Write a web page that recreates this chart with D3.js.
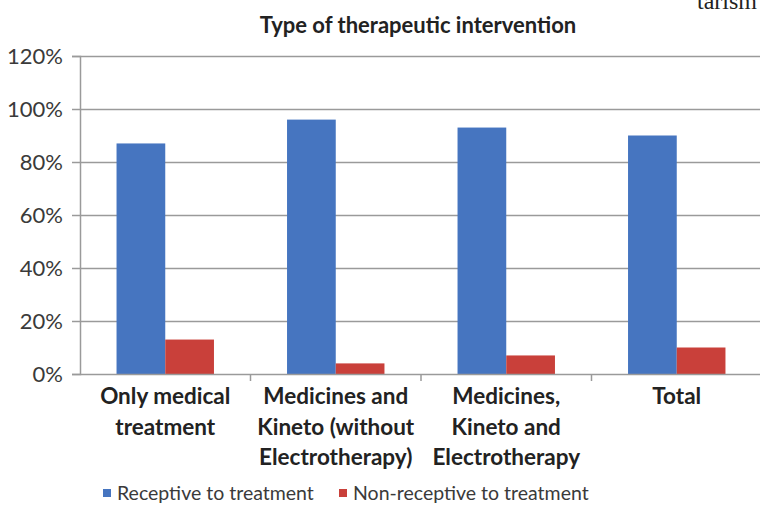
<!DOCTYPE html>
<meta charset="utf-8">
<style>
body { margin: 0; background: #fff; }
svg { display: block; }
.title { font: bold 22px Lato, sans-serif; fill: #222; text-anchor: middle; }
.ytick text { font: 22px Lato, sans-serif; fill: #3a3a3a; }
.cat { font: bold 22.5px Lato, sans-serif; fill: #222; text-anchor: middle; }
.legend text { font: 19.5px Lato, sans-serif; fill: #3a3a3a; }
.corner { font: 24px "Liberation Serif", serif; fill: #222; }
</style>
<svg width="760" height="510"></svg>
<script src="https://d3js.org/d3.v7.min.js"></script>
<script>
var categories = [
  ["Only medical", "treatment"],
  ["Medicines and", "Kineto (without", "Electrotherapy)"],
  ["Medicines,", "Kineto and", "Electrotherapy"],
  ["Total"]
];
var seriesNames = ["Receptive to treatment", "Non-receptive to treatment"];
var receptive = [87, 96, 93, 90];
var nonReceptive = [13, 4, 7, 10];
var yTicks = [0, 20, 40, 60, 80, 100, 120];

var colors = ["#4675c0", "#c9403a"];

var svg = d3.select("svg"),
    plotLeft = 80, plotRight = 762, plotTop = 56, plotBottom = 374;

// clipped caption text from the page this chart came from
svg.append("text").attr("class", "corner").attr("x", 697).attr("y", 9).text("tarism");

svg.append("text").attr("class", "title").attr("x", 418).attr("y", 33).text("Type of therapeutic intervention");

var x = d3.scaleBand().domain(d3.range(categories.length)).range([plotLeft, plotRight]);
var xInner = d3.scaleBand().domain([0, 1]).range([0, x.bandwidth()]).paddingOuter(0.75).paddingInner(0);
var y = d3.scaleLinear().domain([0, 120]).range([plotBottom, plotTop]);

// gridlines
svg.append("g").selectAll("line").data(yTicks.slice(1)).enter().append("line")
    .attr("x1", plotLeft).attr("x2", 760)
    .attr("y1", d => y(d) + 0.5).attr("y2", d => y(d) + 0.5)
    .attr("stroke", "#9a9a9a").attr("stroke-width", 1.5);

// y axis
var yAxis = svg.append("g").attr("class", "ytick").attr("transform", "translate(" + plotLeft + ",0)")
    .call(d3.axisLeft(y).tickValues(yTicks).tickFormat(d => d + "%").tickSize(8).tickPadding(9));
yAxis.select(".domain").attr("stroke", "#9a9a9a").attr("stroke-width", 1.5);
yAxis.selectAll(".tick line").attr("stroke", "#9a9a9a").attr("stroke-width", 1.5);
yAxis.attr("font-family", null).attr("font-size", null);

// bars
var series = [receptive, nonReceptive];
series.forEach(function(vals, s) {
  svg.append("g").selectAll("rect").data(vals).enter().append("rect")
      .attr("x", (d, i) => x(i) + xInner(s))
      .attr("width", xInner.bandwidth())
      .attr("y", d => y(d))
      .attr("height", d => y(0) - y(d))
      .attr("fill", colors[s]);
});

// x axis
svg.append("line").attr("x1", plotLeft).attr("x2", 760).attr("y1", plotBottom + 0.5).attr("y2", plotBottom + 0.5)
    .attr("stroke", "#9a9a9a").attr("stroke-width", 1.5);
svg.append("g").selectAll("line").data(d3.range(1, categories.length + 1)).enter().append("line")
    .attr("x1", d => x(0) + d * x.step()).attr("x2", d => x(0) + d * x.step())
    .attr("y1", plotBottom).attr("y2", plotBottom + 7)
    .attr("stroke", "#9a9a9a").attr("stroke-width", 1.5);

// category labels
categories.forEach(function(lines, i) {
  var t = svg.append("text").attr("class", "cat");
  lines.forEach(function(l, j) {
    t.append("tspan").attr("x", x(i) + x.bandwidth() / 2).attr("y", 404 + j * 30.5).text(l);
  });
});

// legend
var legendX = [103, 339];
var lg = svg.append("g").attr("class", "legend");
seriesNames.forEach(function(n, i) {
  lg.append("rect").attr("x", legendX[i]).attr("y", 489).attr("width", 8).attr("height", 8).attr("fill", colors[i]);
  lg.append("text").attr("x", legendX[i] + 14).attr("y", 500).text(n);
});
</script>
